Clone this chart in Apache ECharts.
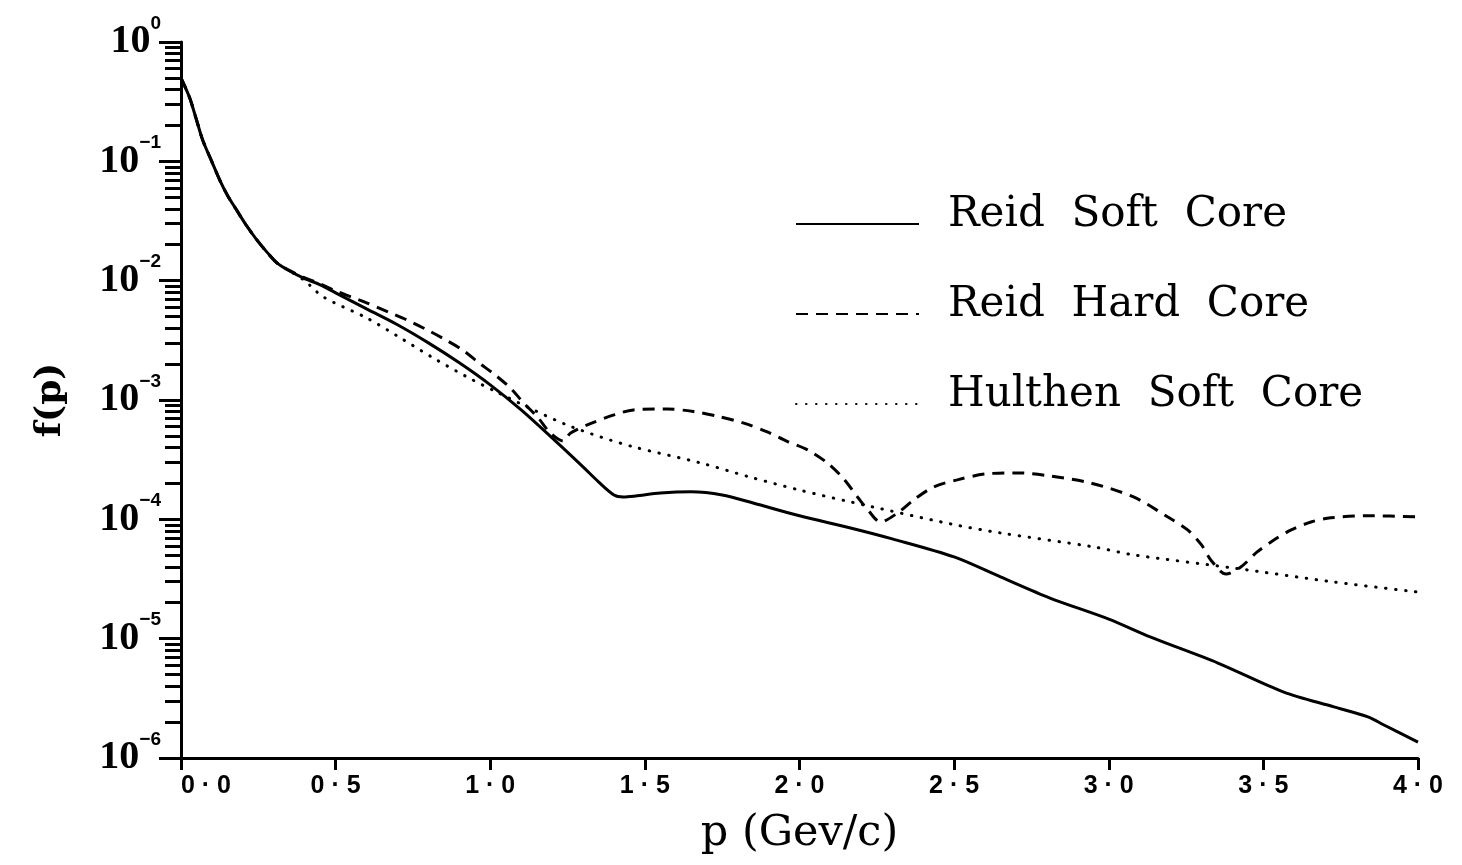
<!DOCTYPE html>
<html>
<head>
<meta charset="utf-8">
<script src="https://cdn.jsdelivr.net/npm/echarts@6/dist/echarts.min.js"></script>
<style>
  html, body { margin: 0; padding: 0; background: #fff; }
  #chart { width: 1462px; height: 865px; }
</style>
</head>
<body>
<div id="chart"></div>
<script>
// Momentum distributions f(p) of the deuteron for three potentials.

// Reid soft-core potential
const softP = [0, 0.015, 0.03, 0.05, 0.07, 0.10, 0.125, 0.15, 0.18, 0.21, 0.245, 0.28, 0.31, 0.35, 0.395, 0.45,
  0.5, 0.6, 0.7, 0.8, 0.9, 1.0, 1.1, 1.2, 1.3, 1.35, 1.4, 1.43, 1.47, 1.55, 1.65, 1.75, 1.85, 2.0, 2.165, 2.3,
  2.5, 2.65, 2.81, 3.0, 3.136, 3.353, 3.566, 3.728, 3.838, 3.89, 4.0];
const softF = [0.50, 0.41, 0.33, 0.223, 0.151, 0.099, 0.070, 0.052, 0.039, 0.0294, 0.022, 0.0171, 0.0141, 0.0121,
  0.01055, 0.00923, 0.0079, 0.0058, 0.00427, 0.00301, 0.00205, 0.00134, 0.000826, 0.000481, 0.000275, 0.000206,
  0.00016, 0.000154, 0.000157, 0.000166, 0.00017, 0.00016, 0.000137, 0.000107, 8.47e-5, 6.86e-5, 4.84e-5,
  3.29e-5, 2.19e-5, 1.46e-5, 1.03e-5, 6.25e-6, 3.57e-6, 2.68e-6, 2.21e-6, 1.89e-6, 1.36e-6];

// Reid hard-core potential
const hardP = [0, 0.015, 0.03, 0.05, 0.07, 0.10, 0.125, 0.15, 0.18, 0.21, 0.245, 0.28, 0.31, 0.35, 0.395, 0.45,
  0.5, 0.55, 0.6, 0.67, 0.73, 0.79, 0.85, 0.91, 0.96, 1.016, 1.065, 1.108, 1.155, 1.194, 1.236, 1.26, 1.33, 1.4,
  1.463, 1.573, 1.657, 1.735, 1.82, 1.896, 1.96, 2.026, 2.09, 2.143, 2.19, 2.22, 2.262, 2.317, 2.37, 2.434, 2.51,
  2.6, 2.705, 2.81, 2.94, 3.08, 3.19, 3.255, 3.30, 3.33, 3.379, 3.427, 3.48, 3.534, 3.59, 3.654, 3.718, 3.838, 4.0];
const hardF = [0.50, 0.41, 0.33, 0.223, 0.151, 0.099, 0.070, 0.052, 0.039, 0.0294, 0.022, 0.0171, 0.0141, 0.0122,
  0.0107, 0.0094, 0.0082, 0.00731, 0.00652, 0.00547, 0.00469, 0.00394, 0.00325, 0.00263, 0.00208, 0.00162,
  0.00126, 0.000946, 0.000708, 0.00053, 0.000454, 0.00053, 0.000643, 0.00075, 0.000826, 0.00084, 0.0008,
  0.00073, 0.00064, 0.00054, 0.00045, 0.000382, 0.000297, 0.000218, 0.000151, 0.000121, 9.5e-5, 0.000113,
  0.000146, 0.000187, 0.000214, 0.00024, 0.000245, 0.000231, 0.000202, 0.000154, 0.000105, 8.15e-5, 6.1e-5,
  4.57e-5, 3.48e-5, 3.99e-5, 5.33e-5, 6.71e-5, 8.15e-5, 9.5e-5, 0.000103, 0.000107, 0.000105];

// Hulthen soft-core potential
const hulthenP = [0, 0.015, 0.03, 0.05, 0.07, 0.10, 0.125, 0.15, 0.18, 0.21, 0.245, 0.28, 0.31, 0.35, 0.4, 0.46,
  0.6, 0.709, 0.816, 0.925, 1.02, 1.14, 1.248, 1.356, 1.463, 1.68, 1.84, 2.0, 2.165, 2.49, 2.65, 2.95, 3.08,
  3.40, 3.73, 4.0];
const hulthenF = [0.50, 0.41, 0.33, 0.223, 0.151, 0.099, 0.070, 0.052, 0.039, 0.0294, 0.022, 0.0171, 0.0141,
  0.0121, 0.0100, 0.00731, 0.00488, 0.00332, 0.00225, 0.00156, 0.00117, 0.000826, 0.000618, 0.000491, 0.000405,
  0.000297, 0.000226, 0.000176, 0.00014, 9.14e-5, 7.69e-5, 5.88e-5, 5.04e-5, 3.92e-5, 2.98e-5, 2.46e-5];

const seriesNames = ['Reid Soft Core', 'Reid Hard Core', 'Hulthen Soft Core'];

// Axis ticks
const xMin = 0, xMax = 4, xStep = 0.5;
const decadeTicks = [1e-6, 1e-5, 1e-4, 1e-3, 1e-2, 1e-1, 1];
const minorTicks = [];
for (let e = -6; e <= -1; e++) {
  for (let k = 2; k <= 9; k++) minorTicks.push(+(k * Math.pow(10, e)).toPrecision(3));
}

const zip = (xs, ys) => xs.map((x, i) => [x, ys[i]]);
const black = '#000';

const chart = echarts.init(document.getElementById('chart'), null, { renderer: 'canvas' });

const yBase = {
  type: 'log',
  logBase: 10,
  min: 1e-6,
  max: 1,
  position: 'left',
  splitLine: { show: false }
};

chart.setOption({
  animation: false,
  backgroundColor: '#fff',
  grid: { left: 181, right: 44, top: 42, bottom: 107, containLabel: false },
  legend: {
    orient: 'vertical',
    left: 795,
    top: 194,
    padding: 0,
    itemWidth: 123,
    itemHeight: 14,
    itemGap: 48,
    selectedMode: false,
    data: seriesNames,
    itemStyle: { opacity: 0 },
    // text sits above the sample line, whose level matches the text baseline
    formatter: name => '{t|' + name.split(' ').join('  ') + '}{s| }',
    textStyle: {
      color: black,
      padding: [0, 0, 0, 24],
      rich: {
        t: { fontFamily: 'DejaVu Serif', fontSize: 42, lineHeight: 44, verticalAlign: 'top', color: black },
        s: { fontSize: 2, lineHeight: 60 }
      }
    }
  },
  xAxis: {
    type: 'value',
    min: xMin,
    max: xMax,
    interval: xStep,
    name: 'p (Gev/c)',
    nameLocation: 'middle',
    nameGap: 54,
    nameTextStyle: { fontFamily: 'DejaVu Serif', fontSize: 43, color: black },
    axisLine: { show: true, onZero: false, lineStyle: { color: black, width: 3 } },
    axisTick: { show: true, length: 12, lineStyle: { color: black, width: 3 } },
    axisLabel: {
      margin: 16,
      color: black,
      fontFamily: 'Liberation Sans',
      fontWeight: 'bold',
      fontSize: 25,
      alignMinLabel: 'left',
      formatter: v => v.toFixed(1).replace('.', ' \u00b7 ')
    },
    splitLine: { show: false }
  },
  yAxis: [
    Object.assign({}, yBase, {
      name: 'f(p)',
      nameLocation: 'middle',
      nameRotate: 90,
      nameGap: 112,
      nameTextStyle: { fontFamily: 'DejaVu Serif', fontWeight: 'bold', fontSize: 36, color: black },
      axisLine: { show: true, onZero: false, lineStyle: { color: black, width: 3 } },
      axisTick: { show: true, length: 22, customValues: decadeTicks, lineStyle: { color: black, width: 3 } },
      axisLabel: {
        margin: 20,
        customValues: decadeTicks,
        formatter: v => {
          const e = Math.round(Math.log10(v));
          return '{m|10}{e|' + (e === 0 ? '0' : '\u2212' + (-e)) + '}';
        },
        rich: {
          m: { fontFamily: 'Liberation Serif', fontWeight: 'bold', fontSize: 40, lineHeight: 56, color: black },
          e: { fontFamily: 'Liberation Sans', fontWeight: 'bold', fontSize: 19, lineHeight: 20,
               verticalAlign: 'top', color: black }
        }
      }
    }),
    Object.assign({}, yBase, {
      axisLine: { show: false },
      axisLabel: { show: false },
      axisTick: { show: true, length: 16, customValues: minorTicks, lineStyle: { color: black, width: 3 } }
    })
  ],
  series: [
    {
      name: seriesNames[2], type: 'line', data: zip(hulthenP, hulthenF), yAxisIndex: 0,
      symbol: 'none', smooth: 0.3, z: 2, itemStyle: { color: black },
      lineStyle: { color: black, width: 3, type: [0.5, 9.5], cap: 'round' }
    },
    {
      name: seriesNames[1], type: 'line', data: zip(hardP, hardF), yAxisIndex: 0,
      symbol: 'none', smooth: 0.3, z: 3, itemStyle: { color: black },
      lineStyle: { color: black, width: 3, type: [12, 8] }
    },
    {
      name: seriesNames[0], type: 'line', data: zip(softP, softF), yAxisIndex: 0,
      symbol: 'none', smooth: 0.3, z: 4, itemStyle: { color: black },
      lineStyle: { color: black, width: 3, type: 'solid' }
    }
  ]
});
</script>
</body>
</html>
